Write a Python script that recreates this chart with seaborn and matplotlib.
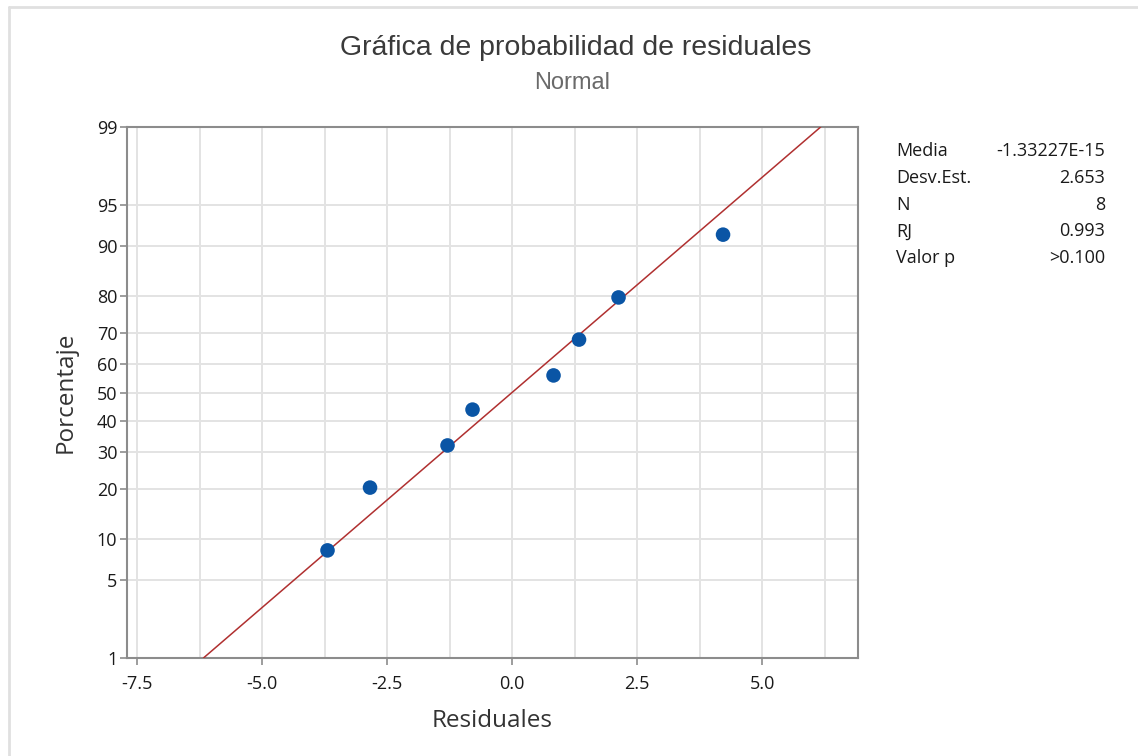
import numpy as np
import pandas as pd
import matplotlib
matplotlib.use("Agg")
import matplotlib.pyplot as plt
from matplotlib.lines import Line2D
from matplotlib.ticker import FixedLocator, MultipleLocator
import seaborn as sns
from statistics import NormalDist

# Residuals and their plotting positions (percent)
residuals = [-3.69, -2.84, -1.29, -0.79, 0.83, 1.34, 2.13, 4.22]
percentages = [8.33, 20.24, 32.14, 44.05, 55.95, 67.86, 79.76, 91.67]

# Fitted normal parameters and summary table
fit_mean = -1.33227e-15
fit_sd = 2.653
stat_names = ["Media", "Desv.Est.", "N", "RJ", "Valor p"]
stat_values = ["-1.33227E-15", "2.653", "8", "0.993", ">0.100"]

y_ticks = [1, 5, 10, 20, 30, 40, 50, 60, 70, 80, 90, 95, 99]
x_ticks = [-7.5, -5.0, -2.5, 0.0, 2.5, 5.0]

_nd = NormalDist()


def _to_z(v):
    if not np.isfinite(v):
        return np.nan
    p = min(max(v / 100.0, 1e-12), 1 - 1e-12)
    return _nd.inv_cdf(p)


def _to_pct(z):
    if not np.isfinite(z):
        return np.nan
    return _nd.cdf(z) * 100.0


prob_forward = np.vectorize(_to_z, otypes=[float])
prob_inverse = np.vectorize(_to_pct, otypes=[float])

sns.set_theme(style="white")
plt.rcParams["font.family"] = ["Open Sans", "DejaVu Sans"]

fig = plt.figure(figsize=(11.38, 7.56), dpi=100)
ax = fig.add_axes([0.1116, 0.1296, 0.6424, 0.7024])

ax.set_yscale("function", functions=(prob_forward, prob_inverse))
ax.set_ylim(1, 99)
ax.set_xlim(-7.7, 6.92)

# Fitted line across the probability range
line_pct = np.array([1.0, 99.0])
line_x = fit_mean + fit_sd * prob_forward(line_pct)
ax.plot(line_x, line_pct, color="#b03030", lw=1.1, zorder=3)

df = pd.DataFrame({"Residuales": residuals, "Porcentaje": percentages})
sns.scatterplot(data=df, x="Residuales", y="Porcentaje", ax=ax,
                color="#0a55a5", s=110, edgecolor="none", zorder=4)

# Grid
ax.yaxis.set_major_locator(FixedLocator(y_ticks))
ax.yaxis.set_minor_locator(FixedLocator([]))
ax.set_yticklabels([str(t) for t in y_ticks])
ax.xaxis.set_major_locator(FixedLocator(x_ticks))
ax.xaxis.set_minor_locator(MultipleLocator(1.25))
ax.set_xticklabels([f"{t:.1f}" for t in x_ticks])
ax.grid(True, which="both", axis="x", color="#e3e3e3", lw=1.4, zorder=0)
ax.grid(True, which="major", axis="y", color="#e3e3e3", lw=1.4, zorder=0)
ax.set_axisbelow(True)

for s in ax.spines.values():
    s.set_color("#8c8c8c")
    s.set_linewidth(1.5)
ax.tick_params(axis="both", which="major", direction="out", length=5,
               width=1.2, color="#8c8c8c", labelsize=13,
               labelcolor="#1a1a1a", left=True, bottom=True)
ax.tick_params(axis="x", which="major", pad=7)
ax.tick_params(axis="y", which="major", pad=2)
ax.tick_params(axis="x", which="minor", length=0)

ax.set_xlabel("Residuales", fontsize=17.5, color="#333333", labelpad=12)
ax.set_ylabel("Porcentaje", fontsize=17.5, color="#333333", labelpad=14)

fig.text(0.506, 1 - 48 / 756, "Gráfica de probabilidad de residuales",
         ha="center", va="center", fontsize=20.5, color="#3a3a3a",
         family=["Liberation Sans", "DejaVu Sans"])
fig.text(0.503, 1 - 83 / 756, "Normal", ha="center", va="center",
         fontsize=17, color="#6a6a6a",
         family=["Liberation Sans", "DejaVu Sans"])

# Summary table
row_y0 = 1 - 151 / 756
row_step = 26.8 / 756
for i, (name, val) in enumerate(zip(stat_names, stat_values)):
    y = row_y0 - i * row_step
    fig.text(896 / 1138, y, name, ha="left", va="center",
             fontsize=13, color="#1a1a1a")
    fig.text(1105 / 1138, y, val, ha="right", va="center",
             fontsize=13, color="#1a1a1a")

# Frame edges along the top and left of the canvas
fig.add_artist(Line2D([9 / 1138, 1.0], [1 - 7 / 756, 1 - 7 / 756],
                      transform=fig.transFigure, color="#e0e0e0", lw=2))
fig.add_artist(Line2D([9 / 1138, 9 / 1138], [0.0, 1 - 7 / 756],
                      transform=fig.transFigure, color="#e0e0e0", lw=2))

fig.savefig("out.png", dpi=100, facecolor="white")
